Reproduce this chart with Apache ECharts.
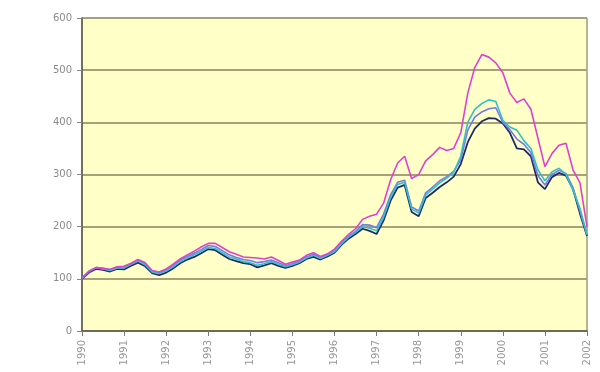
<!DOCTYPE html>
<html>
<head>
<meta charset="utf-8">
<script src="https://cdn.jsdelivr.net/npm/echarts@6/dist/echarts.min.js"></script>
<style>html,body{margin:0;padding:0;background:#fff;}#c{width:600px;height:372px;}</style>
</head>
<body>
<div id="c"></div>
<script>
// time points (years), two-month steps 1990..2002
const dates = [
1990.000,1990.167,1990.333,1990.500,1990.667,1990.833,
1991.000,1991.167,1991.333,1991.500,1991.667,1991.833,
1992.000,1992.167,1992.333,1992.500,1992.667,1992.833,
1993.000,1993.167,1993.333,1993.500,1993.667,1993.833,
1994.000,1994.167,1994.333,1994.500,1994.667,1994.833,
1995.000,1995.167,1995.333,1995.500,1995.667,1995.833,
1996.000,1996.167,1996.333,1996.500,1996.667,1996.833,
1997.000,1997.167,1997.333,1997.500,1997.667,1997.833,
1998.000,1998.167,1998.333,1998.500,1998.667,1998.833,
1999.000,1999.167,1999.333,1999.500,1999.667,1999.833,
2000.000,2000.167,2000.333,2000.500,2000.667,2000.833,
2001.000,2001.167,2001.333,2001.500,2001.667,2001.833,
2002.000];
const yTicks = [0,100,200,300,400,500,600];
const navy = [100,112,119,117,114,119,118,125,131,124,111,107,112,120,130,137,142,149,157,155,146,138,134,130,128,122,126,130,125,121,125,130,138,142,137,143,150,165,177,186,196,192,186,212,250,275,280,228,220,255,265,276,285,296,320,362,388,402,408,407,398,380,350,348,335,285,272,295,303,298,272,225,182];
const cyan = [101,114,121,119,116,121,121,128,134,127,113,110,115,123,133,140,146,153,160,158,150,142,138,133,131,126,129,133,128,123,127,132,140,145,139,145,152,167,180,189,200,197,192,218,256,281,285,234,226,261,272,284,293,304,335,400,425,436,443,440,404,391,385,365,350,309,288,305,312,300,270,235,185];
const blue = [102,115,122,120,118,122,123,129,136,129,115,112,117,126,136,143,149,156,164,162,154,146,141,137,135,131,133,136,131,125,129,134,142,147,141,146,154,169,182,191,204,203,198,224,261,285,289,238,230,265,276,288,296,306,328,385,410,420,426,428,400,386,368,358,342,298,280,300,308,302,275,230,184];
const magenta = [102,114,121,120,118,123,124,130,137,131,116,113,119,128,138,146,153,161,168,168,160,152,147,142,141,140,138,142,135,128,132,136,145,150,143,148,157,172,185,196,214,220,224,245,290,322,335,292,300,326,338,352,346,350,380,456,505,530,525,514,495,456,438,445,425,370,315,340,356,360,309,284,200];

function pairs(vals){ return dates.map((d,i)=>[d, vals[i]]); }
const chart = echarts.init(document.getElementById('c'), null, {renderer:'canvas'});
const mk = (name, vals, color, w) => ({
  name, type:'line', data:pairs(vals), showSymbol:false, smooth:false,
  lineStyle:{color, width:w}, itemStyle:{color}, animation:false, z:2
});
chart.setOption({
  animation:false,
  backgroundColor:'#ffffff',
  grid:{left:82, top:18, right:13, bottom:41, show:true, backgroundColor:'#FFFFC8', borderColor:'#6E6A52', borderWidth:1},
  xAxis:{type:'value', min:1990, max:2002, interval:1,
    axisLine:{show:true, lineStyle:{color:'#5E5A48', width:1.5}},
    axisTick:{show:true, length:5, lineStyle:{color:'#777'}},
    axisLabel:{rotate:90, fontSize:10, color:'#999', margin:9, fontFamily:'DejaVu Sans', formatter:v=>String(Math.round(v))},
    splitLine:{show:false}},
  yAxis:{type:'value', min:yTicks[0], max:yTicks[yTicks.length-1], interval:100,
    axisLine:{show:true, lineStyle:{color:'#5E5A48', width:1.5}},
    axisTick:{show:true, length:5, lineStyle:{color:'#888'}},
    axisLabel:{fontSize:10, color:'#8a8a8a', margin:10, fontFamily:'DejaVu Sans'},
    splitLine:{show:true, lineStyle:{color:'#A8A07A', width:2}}},
  series:[
    mk('navy', navy, '#1E2B66', 1.8),
    mk('blue', blue, '#7878E8', 1.6),
    mk('cyan', cyan, '#30C0C8', 1.6),
    mk('magenta', magenta, '#E040D0', 1.6)
  ]
});
</script>
</body>
</html>
